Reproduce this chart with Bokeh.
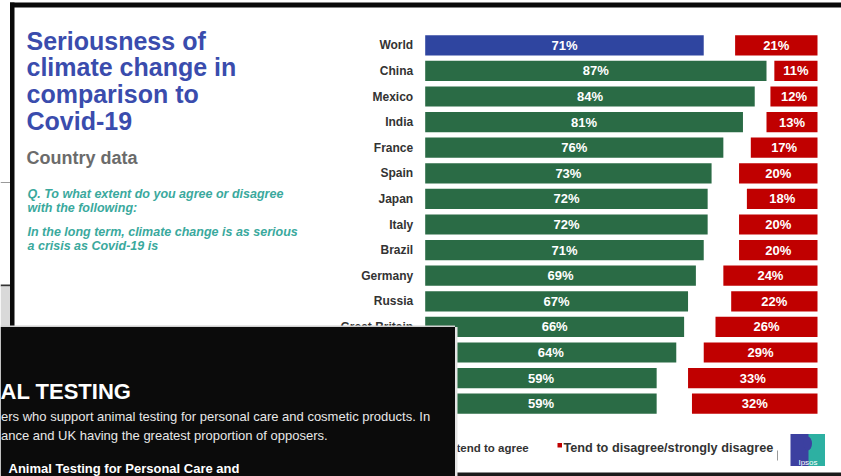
from bokeh.plotting import figure
from bokeh.models import Range1d, ColumnDataSource
from bokeh.embed import file_html
from bokeh.resources import INLINE
from bokeh.core.properties import value

# ---------------- data ----------------
countries = ["World", "China", "Mexico", "India", "France", "Spain", "Japan", "Italy",
             "Brazil", "Germany", "Russia", "Great Britain", "Canada", "Australia", "US"]
agree = [71, 87, 84, 81, 76, 73, 72, 72, 71, 69, 67, 66, 64, 59, 59]
disagree = [21, 11, 12, 13, 17, 20, 18, 20, 20, 24, 22, 26, 29, 33, 32]

title_lines = ["Seriousness of", "climate change in", "comparison to", "Covid-19"]
subtitle = "Country data"
question_lines = ["Q. To what extent do you agree or disagree", "with the following:"]
statement_lines = ["In the long term, climate change is as serious", "a crisis as Covid-19 is"]
legend_agree = "tend to agree"
legend_disagree = "Tend to disagree/strongly disagree"
overlay_heading = "AL TESTING"
overlay_lines = ["ers who support animal testing for personal care and cosmetic products. In",
                 "ance and UK having the greatest proportion of opposers."]
overlay_sub = "Animal Testing for Personal Care and"

W, H = 841, 476
FONT = "Liberation Sans"
BLUE = "#3A4CAD"
GREEN = "#2A6B45"
WORLD = "#2F45A0"
RED = "#C00000"
TEAL = "#3AA99D"

# pixel geometry of the data area
X0, PXU = 424.7, 3.923     # px of value 0, px per percentage point
Y0, ROW = 44.8, 25.6       # px of first row centre, row pitch

idx = list(range(len(countries)))
src = ColumnDataSource(dict(
    idx=idx,
    country=countries,
    agree=agree,
    dleft=[100 - d for d in disagree],
    amid=[a / 2 for a in agree],
    dmid=[100 - d / 2 for d in disagree],
    alab=[f"{a}%" for a in agree],
    dlab=[f"{d}%" for d in disagree],
    acol=[WORLD if c == "World" else GREEN for c in countries],
))

p = figure(width=W, height=H,
           x_range=Range1d(-X0 / PXU, (W - X0) / PXU),
           y_range=Range1d((H - Y0) / ROW, -Y0 / ROW),
           output_backend="svg", toolbar_location=None,
           x_axis_location=None, y_axis_location=None,
           min_border=0, outline_line_color=None,
           background_fill_color="white", border_fill_color="white")
p.grid.visible = False
p.extra_x_ranges = {"px": Range1d(0, W)}
p.extra_y_ranges = {"px": Range1d(H, 0)}

PX = dict(x_range_name="px", y_range_name="px")


def box(l, r, t, b, color):
    p.quad(left=l, right=r, top=t, bottom=b, fill_color=color, line_color=None, **PX)


def txt(x, y, s, size, color, style="normal", align="left", baseline="alphabetic"):
    p.text(x=[x], y=[y], text=[s], text_font=value(FONT), text_font_size=f"{size}px",
           text_font_style=style, text_color=color, text_align=align,
           text_baseline=baseline, **PX)


# background slide pieces on the far left
box(0, 9.5, 181.5, 182.5, "#9a9a9a")
box(0, 9.5, 284, 286, "#333333")
box(0, 9.5, 286, 326, "#d9d9d9")

# bars
p.hbar(y="idx", left=0, right="agree", height=0.79, fill_color="acol",
       line_color=None, source=src)
p.hbar(y="idx", left="dleft", right=100, height=0.79, fill_color=RED,
       line_color=None, source=src)
p.text(x="amid", y="idx", text="alab", source=src, text_align="center",
       text_baseline="middle", text_color="white", text_font=value(FONT),
       text_font_style="bold", text_font_size="13px")
p.text(x="dmid", y="idx", text="dlab", source=src, text_align="center",
       text_baseline="middle", text_color="white", text_font=value(FONT),
       text_font_style="bold", text_font_size="13px")
p.text(x=0, y="idx", text="country", source=src, x_offset=-12, text_align="right",
       text_baseline="middle", text_color="#333333", text_font=value(FONT),
       text_font_style="bold", text_font_size="12px")

# titles
for i, s in enumerate(title_lines):
    txt(26, 40 + i * 26.7, s, 25, BLUE, "bold")
txt(26, 157, subtitle, 18, "#6b6b6b", "bold")
for i, s in enumerate(question_lines):
    txt(27, 193 + i * 14, s, 12.5, TEAL, "bold italic")
for i, s in enumerate(statement_lines):
    txt(27, 231 + i * 14, s, 12.5, TEAL, "bold italic")

# legend
txt(456, 447, legend_agree, 11.5, "#333333", "bold")
box(557, 561.5, 442.5, 447, RED)
txt(563, 447, legend_disagree, 12.7, "#333333", "bold")
box(776.5, 777.5, 450, 460, "#9a9a9a")

# logo
box(790, 824.5, 433.5, 465.5, "#3C40A0")
box(808, 824.5, 433.5, 465.5, "#2DB0A2")
p.ellipse(x=[807], y=[443], width=9, height=14, fill_color="#3C40A0", line_color=None, **PX)
txt(807.5, 462, "Ipsos", 8, "white", "normal", "center")

# slide frame
box(9.5, 14, 2, H, "#0a0a0a")
box(9.5, W, 2, 7, "#0a0a0a")
box(9.5, W, 472, H, "#1a1a1a")

# overlapping dark window
box(0, 454.5, 325, 326.5, "#d0d0d0")
box(0, 454.5, 326.5, H, "#0b0b0b")
box(454.5, 457, 326.5, H, "#e4e4e4")
txt(0, 391, overlay_heading, 22, "white", "bold")
for i, s in enumerate(overlay_lines):
    txt(0.5, 416 + i * 19, s, 13, "#e8e8e8")
txt(8, 468, overlay_sub, 13, "white", "bold")

open("out.html", "w").write(file_html(p, INLINE))
